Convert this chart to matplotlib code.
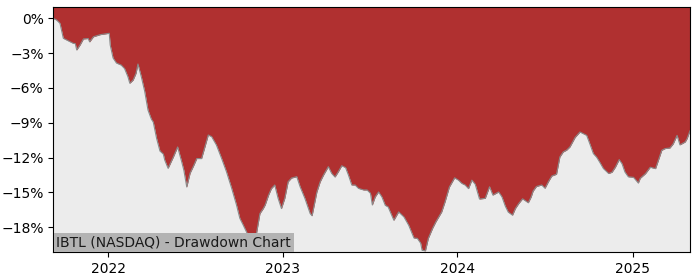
import numpy as np
import pandas as pd
import matplotlib
matplotlib.use("Agg")
import matplotlib.pyplot as plt
import matplotlib.dates as mdates
from matplotlib.ticker import PercentFormatter

# drawdown, in percent
dates = [
    "2021-09-08", "2021-09-15", "2021-09-22", "2021-09-25", "2021-09-29", "2021-10-06",
    "2021-10-20", "2021-10-24", "2021-10-27", "2021-11-03", "2021-11-10", "2021-11-20",
    "2021-11-23", "2021-12-01", "2021-12-15", "2022-01-03", "2022-01-05", "2022-01-11",
    "2022-01-18", "2022-01-28", "2022-02-04", "2022-02-11", "2022-02-15", "2022-02-22",
    "2022-02-28", "2022-03-04", "2022-03-11", "2022-03-18", "2022-03-25", "2022-04-01",
    "2022-04-05", "2022-04-12", "2022-04-19", "2022-04-26", "2022-04-29", "2022-05-06",
    "2022-05-17", "2022-05-26", "2022-06-03", "2022-06-08", "2022-06-14", "2022-06-21",
    "2022-06-28", "2022-07-05", "2022-07-15", "2022-07-22", "2022-07-29", "2022-08-05",
    "2022-08-15", "2022-08-26", "2022-09-05", "2022-09-16", "2022-09-26", "2022-10-03",
    "2022-10-10", "2022-10-20", "2022-10-24", "2022-10-28", "2022-11-02", "2022-11-07",
    "2022-11-14", "2022-11-21", "2022-11-25", "2022-12-02", "2022-12-08", "2022-12-15",
    "2022-12-22", "2022-12-29", "2023-01-05", "2023-01-12", "2023-01-19", "2023-01-30",
    "2023-02-06", "2023-02-16", "2023-02-27", "2023-03-03", "2023-03-13", "2023-03-20",
    "2023-03-27", "2023-04-06", "2023-04-13", "2023-04-20", "2023-04-27", "2023-05-04",
    "2023-05-12", "2023-05-18", "2023-05-25", "2023-06-01", "2023-06-08", "2023-06-19",
    "2023-06-26", "2023-07-03", "2023-07-07", "2023-07-13", "2023-07-20", "2023-07-27",
    "2023-08-03", "2023-08-09", "2023-08-21", "2023-08-31", "2023-09-11", "2023-09-21",
    "2023-10-02", "2023-10-09", "2023-10-16", "2023-10-19", "2023-10-26", "2023-11-01",
    "2023-11-10", "2023-11-17", "2023-11-29", "2023-12-06", "2023-12-15", "2023-12-26",
    "2024-01-03", "2024-01-10", "2024-01-17", "2024-01-24", "2024-01-31", "2024-02-07",
    "2024-02-13", "2024-02-16", "2024-02-28", "2024-03-08", "2024-03-15", "2024-03-27",
    "2024-04-03", "2024-04-10", "2024-04-16", "2024-04-25", "2024-05-01", "2024-05-08",
    "2024-05-16", "2024-05-28", "2024-06-03", "2024-06-07", "2024-06-14", "2024-06-25",
    "2024-07-02", "2024-07-09", "2024-07-16", "2024-07-26", "2024-08-02", "2024-08-09",
    "2024-08-16", "2024-08-23", "2024-09-03", "2024-09-13", "2024-09-20", "2024-09-27",
    "2024-10-04", "2024-10-11", "2024-10-18", "2024-10-25", "2024-11-01", "2024-11-12",
    "2024-11-19", "2024-11-26", "2024-12-04", "2024-12-10", "2024-12-16", "2024-12-23",
    "2025-01-03", "2025-01-13", "2025-01-17", "2025-01-28", "2025-02-07", "2025-02-18",
    "2025-02-24", "2025-03-03", "2025-03-10", "2025-03-20", "2025-03-27", "2025-04-04",
    "2025-04-10", "2025-04-21", "2025-04-25", "2025-04-29", "2025-05-01",
]
drawdown = [
    0.0, -0.15, -0.43, -1.0, -1.72, -1.87,
    -2.16, -2.18, -2.73, -2.30, -1.78, -1.74,
    -2.03, -1.59, -1.41, -1.29, -2.30, -3.42,
    -3.85, -4.03, -4.33, -5.03, -5.60, -5.32,
    -4.74, -3.94, -5.03, -6.27, -7.91, -8.69,
    -8.94, -10.35, -11.44, -11.70, -12.22, -12.93,
    -11.96, -11.09, -12.30, -13.10, -14.54, -13.35,
    -12.75, -12.09, -12.09, -11.09, -10.06, -10.20,
    -10.92, -12.09, -13.22, -14.66, -16.09, -17.24,
    -17.82, -18.68, -19.10, -18.95, -19.30, -18.50,
    -16.83, -16.40, -16.09, -15.25, -14.68, -14.37,
    -15.52, -16.40, -15.52, -14.09, -13.77, -13.65,
    -14.52, -15.52, -16.83, -17.02, -14.98, -14.09,
    -13.51, -12.79, -13.37, -13.68, -13.22, -12.71,
    -12.87, -13.51, -14.37, -14.37, -14.66, -14.80,
    -14.80, -15.08, -16.09, -15.40, -14.97, -15.40,
    -16.12, -16.26, -17.41, -16.69, -17.12, -17.84,
    -18.94, -18.97, -19.38, -20.00, -20.04, -18.97,
    -18.10, -17.53, -16.69, -15.82, -14.55, -13.75,
    -13.95, -14.23, -14.37, -14.68, -13.95, -14.30,
    -15.15, -15.58, -15.52, -14.52, -15.24, -14.97,
    -15.40, -16.20, -16.70, -16.97, -16.40, -15.97,
    -15.56, -15.90, -15.40, -14.90, -14.50, -14.37,
    -14.65, -14.09, -13.60, -13.44, -11.95, -11.52,
    -11.37, -11.09, -10.26, -9.80, -9.94, -10.09,
    -10.86, -11.66, -11.98, -12.45, -12.95, -13.38,
    -13.27, -12.84, -12.18, -12.54, -13.25, -13.66,
    -13.71, -14.20, -13.79, -13.39, -12.84, -12.96,
    -12.24, -11.38, -11.23, -11.18, -10.82, -10.09,
    -10.91, -10.66, -10.37, -9.91, -9.70,
]
title = "IBTL (NASDAQ) - Drawdown Chart"

x = pd.to_datetime(dates)
dd = np.array(drawdown)
y_top = 1.0
y_bottom = -20.17

fig = plt.figure(figsize=(7, 2.8), dpi=100)
ax = fig.add_axes([0.0761, 0.099, 0.9096, 0.877])
ax.set_facecolor("#ececec")

# red area from the drawdown curve up to the top of the axes
ax.fill_between(x, dd, y_top, color="#b03030", linewidth=0)
ax.plot(x, dd, color="#8a8a8a", linewidth=0.8)

ax.set_xlim(x[0], x[-1])
ax.set_ylim(y_bottom, y_top)
ax.set_yticks([0, -3, -6, -9, -12, -15, -18])
ax.yaxis.set_major_formatter(PercentFormatter(xmax=100, decimals=0))
ax.xaxis.set_major_locator(mdates.YearLocator())
ax.xaxis.set_major_formatter(mdates.DateFormatter("%Y"))

ax.text(0.005, 0.012, title, transform=ax.transAxes, fontsize=10,
        color="#1a1a1a", ha="left", va="bottom",
        bbox=dict(facecolor="#b3b3b3", edgecolor="none", pad=2))

fig.savefig("out.png", dpi=100)
